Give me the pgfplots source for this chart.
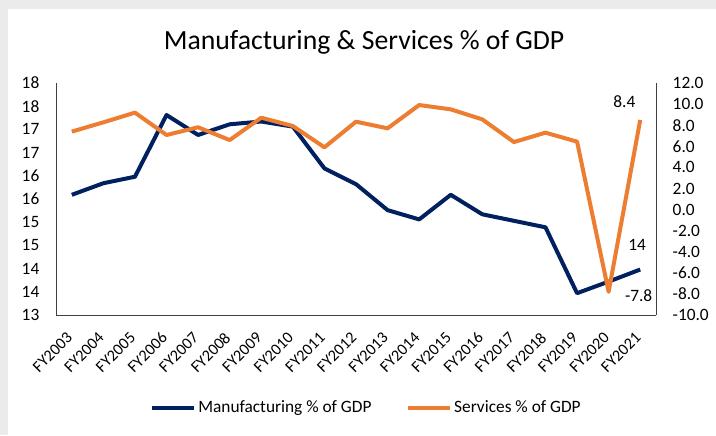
\documentclass[border=0pt]{standalone}
\usepackage{pgfplots}
\pgfplotsset{compat=1.18}
\usepackage{fontspec}
\setmainfont{Carlito}
\definecolor{navy}{HTML}{002060}
\definecolor{orng}{HTML}{ED7D31}
\definecolor{axgray}{HTML}{404040}
\begin{document}
\begin{tikzpicture}
\path[use as bounding box] (0pt,0pt) rectangle (537pt,326.25pt);
\fill[black!8] (0pt,0pt) rectangle (537pt,326.25pt);
\fill[white] (6pt,0pt) rectangle (537pt,319.5pt);
\node[anchor=base, font=\fontsize{20.8}{22}\selectfont] at (273pt,288.75pt) {Manufacturing \& Services \% of GDP};
\begin{axis}[
  at={(42pt,90pt)}, anchor=south west,
  width=450pt, height=174pt, scale only axis,
  xmin=-0.5, xmax=18.5, ymin=13, ymax=18,
  axis x line*=bottom, axis y line*=left,
  axis line style={axgray, line width=0.6pt, -},
  ytick={13,13.5,...,18},
  yticklabels={13,14,14,15,15,16,16,17,17,18,18},
  xtick={0,...,18},
  xticklabels={FY2003,FY2004,FY2005,FY2006,FY2007,FY2008,FY2009,FY2010,FY2011,FY2012,FY2013,FY2014,FY2015,FY2016,FY2017,FY2018,FY2019,FY2020,FY2021},
  xticklabel style={yshift=-12pt, xshift=-4.5pt, rotate=45, anchor=north east, inner sep=0pt, font=\fontsize{12.2}{13}\selectfont},
  tick style={draw=none},
  yticklabel style={xshift=-9pt, font=\fontsize{13}{14}\selectfont},
  /pgf/number format/assume math mode=true,
]
\addplot[navy, line width=3pt, line join=round] coordinates {
(0,15.59) (1,15.84) (2,15.98) (3,17.31) (4,16.88) (5,17.11) (6,17.17) (7,17.06) (8,16.16) (9,15.82)
(10,15.26) (11,15.06) (12,15.59) (13,15.17) (14,15.03) (15,14.89) (16,13.47) (17,13.72) (18,13.98)};
\node[font=\fontsize{13}{14}\selectfont] at (axis cs:17.9,14.51) {14};
\end{axis}
\begin{axis}[
  at={(42pt,90pt)}, anchor=south west,
  width=450pt, height=174pt, scale only axis,
  xmin=-0.5, xmax=18.5, ymin=-10, ymax=12,
  axis x line=none, axis y line*=right,
  axis line style={axgray, line width=0.6pt, -},
  ytick={-10,-8,...,12},
  yticklabels={-10.0,-8.0,-6.0,-4.0,-2.0,0.0,2.0,4.0,6.0,8.0,10.0,12.0},
  tick style={draw=none},
  yticklabel style={xshift=9pt, font=\fontsize{13}{14}\selectfont},
  /pgf/number format/assume math mode=true,
  legend style={at={(0.518,-0.40)}, anchor=center, draw=none, fill=none,
    legend columns=2, font=\fontsize{13}{14}\selectfont,
    /tikz/every even column/.append style={column sep=24pt}},
  legend image code/.code={\draw[#1] (0pt,0pt) -- (31pt,0pt);},
]
\addlegendimage{navy, line width=3pt}
\addlegendentry{Manufacturing \% of GDP}
\addplot[orng, line width=3pt, line join=round] coordinates {
(0,7.39) (1,8.27) (2,9.19) (3,7.07) (4,7.80) (5,6.59) (6,8.71) (7,7.92) (8,5.90) (9,8.33)
(10,7.70) (11,9.91) (12,9.50) (13,8.55) (14,6.40) (15,7.29) (16,6.44) (17,-7.80) (18,8.49)};
\addlegendentry{Services \% of GDP}
\node[font=\fontsize{13}{14}\selectfont] at (axis cs:17.5,10.24) {8.4};
\node[font=\fontsize{13}{14}\selectfont] at (axis cs:17.95,-8.2) {-7.8};
\end{axis}
\end{tikzpicture}
\end{document}
